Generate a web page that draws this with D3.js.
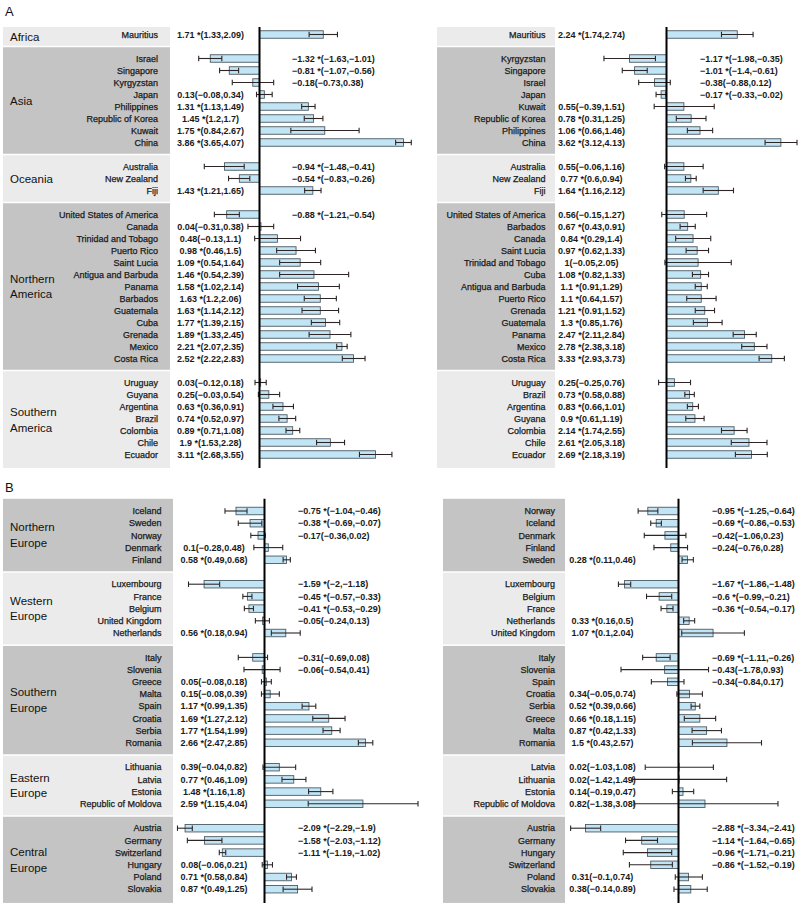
<!DOCTYPE html>
<html>
<head>
<meta charset="utf-8">
<script src="https://cdn.jsdelivr.net/npm/d3@7"></script>
<style>
  body { margin: 0; background: #fff; }
  svg { font-family: "Liberation Sans", Arial, sans-serif; }
</style>
</head>
<body>
<script>
// data
// Panel A: groups and how many countries each holds
var groupsA = ["Africa", "Asia", "Oceania", "Northern America", "Southern America"];
var sizesA = [1, 8, 3, 13, 7];

// Panel A, left column
var aLeftCountries = ["Mauritius",
  "Israel", "Singapore", "Kyrgyzstan", "Japan", "Philippines", "Republic of Korea", "Kuwait", "China",
  "Australia", "New Zealand", "Fiji",
  "United States of America", "Canada", "Trinidad and Tobago", "Puerto Rico", "Saint Lucia", "Antigua and Barbuda",
  "Panama", "Barbados", "Guatemala", "Cuba", "Grenada", "Mexico", "Costa Rica",
  "Uruguay", "Guyana", "Argentina", "Brazil", "Colombia", "Chile", "Ecuador"];
var aLeftEst = [1.71, -1.32, -0.81, -0.18, 0.13, 1.31, 1.45, 1.75, 3.86, -0.94, -0.54, 1.43,
  -0.88, 0.04, 0.48, 0.98, 1.09, 1.46, 1.58, 1.63, 1.63, 1.77, 1.89, 2.21, 2.52,
  0.03, 0.25, 0.63, 0.74, 0.89, 1.9, 3.11];
var aLeftLow = [1.33, -1.63, -1.07, -0.73, -0.08, 1.13, 1.2, 0.84, 3.65, -1.48, -0.83, 1.21,
  -1.21, -0.31, -0.13, 0.46, 0.54, 0.54, 1.02, 1.2, 1.14, 1.39, 1.33, 2.07, 2.22,
  -0.12, -0.03, 0.36, 0.52, 0.71, 1.53, 2.68];
var aLeftHigh = [2.09, -1.01, -0.56, 0.38, 0.34, 1.49, 1.7, 2.67, 4.07, -0.41, -0.26, 1.65,
  -0.54, 0.38, 1.1, 1.5, 1.64, 2.39, 2.14, 2.06, 2.12, 2.15, 2.45, 2.35, 2.83,
  0.18, 0.54, 0.91, 0.97, 1.08, 2.28, 3.55];

// Panel A, right column
var aRightCountries = ["Mauritius",
  "Kyrgyzstan", "Singapore", "Israel", "Japan", "Kuwait", "Republic of Korea", "Philippines", "China",
  "Australia", "New Zealand", "Fiji",
  "United States of America", "Barbados", "Canada", "Saint Lucia", "Trinidad and Tobago", "Cuba",
  "Antigua and Barbuda", "Puerto Rico", "Grenada", "Guatemala", "Panama", "Mexico", "Costa Rica",
  "Uruguay", "Brazil", "Argentina", "Guyana", "Colombia", "Chile", "Ecuador"];
var aRightEst = [2.24, -1.17, -1.01, -0.38, -0.17, 0.55, 0.78, 1.06, 3.62, 0.55, 0.77, 1.64,
  0.56, 0.67, 0.84, 0.97, 1, 1.08, 1.1, 1.1, 1.21, 1.3, 2.47, 2.78, 3.33,
  0.25, 0.73, 0.83, 0.9, 2.14, 2.61, 2.69];
var aRightLow = [1.74, -1.98, -1.4, -0.88, -0.33, -0.39, 0.31, 0.66, 3.12, -0.06, 0.6, 1.16,
  -0.15, 0.43, 0.29, 0.62, -0.05, 0.82, 0.91, 0.64, 0.91, 0.85, 2.11, 2.38, 2.93,
  -0.25, 0.58, 0.66, 0.61, 1.74, 2.05, 2.18];
var aRightHigh = [2.74, -0.35, -0.61, 0.12, -0.02, 1.51, 1.25, 1.46, 4.13, 1.16, 0.94, 2.12,
  1.27, 0.91, 1.4, 1.33, 2.05, 1.33, 1.29, 1.57, 1.52, 1.76, 2.84, 3.18, 3.73,
  0.76, 0.88, 1.01, 1.19, 2.55, 3.18, 3.19];

// Panel B: groups and sizes
var groupsB = ["Northern Europe", "Western Europe", "Southern Europe", "Eastern Europe", "Central Europe"];
var sizesB = [5, 5, 8, 4, 6];

// Panel B, left column
var bLeftCountries = ["Iceland", "Sweden", "Norway", "Denmark", "Finland",
  "Luxembourg", "France", "Belgium", "United Kingdom", "Netherlands",
  "Italy", "Slovenia", "Greece", "Malta", "Spain", "Croatia", "Serbia", "Romania",
  "Lithuania", "Latvia", "Estonia", "Republic of Moldova",
  "Austria", "Germany", "Switzerland", "Hungary", "Poland", "Slovakia"];
var bLeftEst = [-0.75, -0.38, -0.17, 0.1, 0.58, -1.59, -0.45, -0.41, -0.05, 0.56,
  -0.31, -0.06, 0.05, 0.15, 1.17, 1.69, 1.77, 2.66, 0.39, 0.77, 1.48, 2.59,
  -2.09, -1.58, -1.11, 0.08, 0.71, 0.87];
var bLeftLow = [-1.04, -0.69, -0.36, -0.28, 0.49, -2, -0.57, -0.53, -0.24, 0.18,
  -0.69, -0.54, -0.08, -0.08, 0.99, 1.27, 1.54, 2.47, -0.04, 0.46, 1.16, 1.15,
  -2.29, -2.03, -1.19, -0.06, 0.58, 0.49];
var bLeftHigh = [-0.46, -0.07, 0.02, 0.48, 0.68, -1.18, -0.33, -0.29, 0.13, 0.94,
  0.08, 0.41, 0.18, 0.39, 1.35, 2.12, 1.99, 2.85, 0.82, 1.09, 1.8, 4.04,
  -1.9, -1.12, -1.02, 0.21, 0.84, 1.25];

// Panel B, right column
var bRightCountries = ["Norway", "Iceland", "Denmark", "Finland", "Sweden",
  "Luxembourg", "Belgium", "France", "Netherlands", "United Kingdom",
  "Italy", "Slovenia", "Spain", "Croatia", "Serbia", "Greece", "Malta", "Romania",
  "Latvia", "Lithuania", "Estonia", "Republic of Moldova",
  "Austria", "Germany", "Hungary", "Switzerland", "Poland", "Slovakia"];
var bRightEst = [-0.95, -0.69, -0.42, -0.24, 0.28, -1.67, -0.6, -0.36, 0.33, 1.07,
  -0.69, -0.43, -0.34, 0.34, 0.52, 0.66, 0.87, 1.5, 0.02, 0.02, 0.14, 0.82,
  -2.88, -1.14, -0.96, -0.86, 0.31, 0.38];
var bRightLow = [-1.25, -0.86, -1.06, -0.76, 0.11, -1.86, -0.99, -0.54, 0.16, 0.1,
  -1.11, -1.78, -0.84, -0.05, 0.39, 0.18, 0.42, 0.43, -1.03, -1.42, -0.19, -1.38,
  -3.34, -1.64, -1.71, -1.52, -0.1, -0.14];
var bRightHigh = [-0.64, -0.53, 0.23, 0.28, 0.46, -1.48, -0.21, -0.17, 0.5, 2.04,
  -0.26, 0.93, 0.17, 0.74, 0.66, 1.15, 1.33, 2.57, 1.08, 1.49, 0.47, 3.08,
  -2.41, -0.65, -0.21, -0.19, 0.74, 0.89];

// layout of the four columns (positions only)
var columns = [
  { countries: aLeftCountries, est: aLeftEst, lo: aLeftLow, hi: aLeftHigh, groups: groupsA, sizes: sizesA,
    bandX: [3, 170], labelX: 158, zero: 259.5, unit: 37.3, posX: 210.5, negX: 292,
    top: 34.5, step: 12, topPad: 7.5, firstDark: false, regions: true },
  { countries: aRightCountries, est: aRightEst, lo: aRightLow, hi: aRightHigh, groups: groupsA, sizes: sizesA,
    bandX: [437, 555], labelX: 545.5, zero: 666.5, unit: 31.6, posX: 591.5, negX: 700,
    top: 34.5, step: 12, topPad: 7.5, firstDark: false, regions: false },
  { countries: bLeftCountries, est: bLeftEst, lo: bLeftLow, hi: bLeftHigh, groups: groupsB, sizes: sizesB,
    bandX: [3, 173], labelX: 161.5, zero: 264.5, unit: 38.0, posX: 214, negX: 298,
    top: 511, step: 12.2, topPad: 12.2, firstDark: true, regions: true },
  { countries: bRightCountries, est: bRightEst, lo: bRightLow, hi: bRightHigh, groups: groupsB, sizes: sizesB,
    bandX: [443, 565], labelX: 555, zero: 678.5, unit: 32.3, posX: 602.5, negX: 712,
    top: 511, step: 12.2, topPad: 12.2, firstDark: true, regions: false }
];

var darkBand = "#c4c4c4";
var lightBand = "#ebebeb";
var barFill = "#c2e5f6";
var barStroke = "#4c5a63";
var errColor = "#2e2626";
var barH = 7.5;
var capH = 5.5;

var svg = d3.select("body")
            .append("svg")
            .attr("width", 800)
            .attr("height", 905);

// panel letters
svg.append("text").attr("x", 5).attr("y", 16).attr("font-size", 13).attr("fill", "#111").text("A");
svg.append("text").attr("x", 5).attr("y", 492).attr("font-size", 13).attr("fill", "#111").text("B");

function fmt(v) {
  return String(v).replace(/-/g, "\u2212");
}

columns.forEach(function(col) {
  var g = svg.append("g");

  // row index -> y, one empty row between groups
  var rowIdx = [];
  var groupInfo = [];
  var k = 0;
  col.sizes.forEach(function(n, gi) {
    groupInfo.push({ name: col.groups[gi], first: k, last: k + n - 1 });
    for (var i = 0; i < n; i++) rowIdx.push(k++);
    k++;
  });

  var y = d3.scaleLinear().domain([0, 1]).range([col.top, col.top + col.step]);
  var x = d3.scaleLinear().domain([0, 1]).range([col.zero, col.zero + col.unit]);

  // background bands
  groupInfo.forEach(function(gr, gi) {
    var y0 = gi === 0 ? y(gr.first) - col.topPad : y(gr.first - 1) + 0.75;
    var y1 = gi === groupInfo.length - 1 ? y(gr.last) + col.step + 1.5 : y(gr.last + 1) - 0.75;
    gr.y0 = y0; gr.y1 = y1;
    var dark = (gi % 2 === 0) === col.firstDark;
    g.append("rect")
     .attr("x", col.bandX[0])
     .attr("y", y0)
     .attr("width", col.bandX[1] - col.bandX[0])
     .attr("height", y1 - y0)
     .attr("fill", dark ? darkBand : lightBand);

    if (col.regions) {
      var words = gr.name.split(" ");
      var mid = (y0 + y1) / 2;
      words.forEach(function(w, wi) {
        g.append("text")
         .attr("x", 10)
         .attr("y", mid + (wi - (words.length - 1) / 2) * 15.5)
         .attr("dy", "0.36em")
         .attr("font-size", 11.5)
         .attr("fill", "#111")
         .text(w);
      });
    }
  });

  var rows = col.countries.map(function(c, i) {
    return { name: c, est: col.est[i], lo: col.lo[i], hi: col.hi[i], idx: rowIdx[i] };
  });

  // country names
  g.selectAll(".cname")
   .data(rows)
   .enter()
   .append("text")
   .attr("x", col.labelX)
   .attr("y", d => y(d.idx))
   .attr("dy", "0.36em")
   .attr("text-anchor", "end")
   .attr("font-size", 9)
   .attr("fill", "#1a1a1a")
   .attr("stroke", "#1a1a1a")
   .attr("stroke-width", 0.25)
   .text(d => d.name);

  // value labels
  g.selectAll(".val")
   .data(rows)
   .enter()
   .append("text")
   .attr("x", d => d.est < 0 ? col.negX : col.posX)
   .attr("y", d => y(d.idx))
   .attr("dy", "0.36em")
   .attr("text-anchor", d => d.est < 0 ? "start" : "middle")
   .attr("font-size", 9)
   .attr("font-weight", "bold")
   .attr("fill", "#1a1a1a")
   .text(function(d) {
     var sig = (d.lo > 0 || d.hi < 0) ? " *" : "";
     return fmt(d.est) + sig + "(" + fmt(d.lo) + "," + fmt(d.hi) + ")";
   });

  // bars
  g.selectAll(".bar")
   .data(rows)
   .enter()
   .append("rect")
   .attr("x", d => Math.min(x(0), x(d.est)))
   .attr("y", d => y(d.idx) - barH / 2)
   .attr("width", d => Math.abs(x(d.est) - x(0)))
   .attr("height", barH)
   .attr("fill", barFill)
   .attr("stroke", barStroke)
   .attr("stroke-width", 0.9);

  // error bars
  var eb = g.selectAll(".err")
            .data(rows)
            .enter()
            .append("g");
  eb.append("line")
    .attr("x1", d => x(d.lo)).attr("x2", d => x(d.hi))
    .attr("y1", d => y(d.idx)).attr("y2", d => y(d.idx))
    .attr("stroke", errColor).attr("stroke-width", 1.1);
  eb.append("line")
    .attr("x1", d => x(d.lo)).attr("x2", d => x(d.lo))
    .attr("y1", d => y(d.idx) - capH / 2).attr("y2", d => y(d.idx) + capH / 2)
    .attr("stroke", errColor).attr("stroke-width", 1.1);
  eb.append("line")
    .attr("x1", d => x(d.hi)).attr("x2", d => x(d.hi))
    .attr("y1", d => y(d.idx) - capH / 2).attr("y2", d => y(d.idx) + capH / 2)
    .attr("stroke", errColor).attr("stroke-width", 1.1);

  // zero line
  g.append("line")
   .attr("x1", x(0)).attr("x2", x(0))
   .attr("y1", groupInfo[0].y0)
   .attr("y2", groupInfo[groupInfo.length - 1].y1)
   .attr("stroke", "#000")
   .attr("stroke-width", 2);
});
</script>
</body>
</html>
